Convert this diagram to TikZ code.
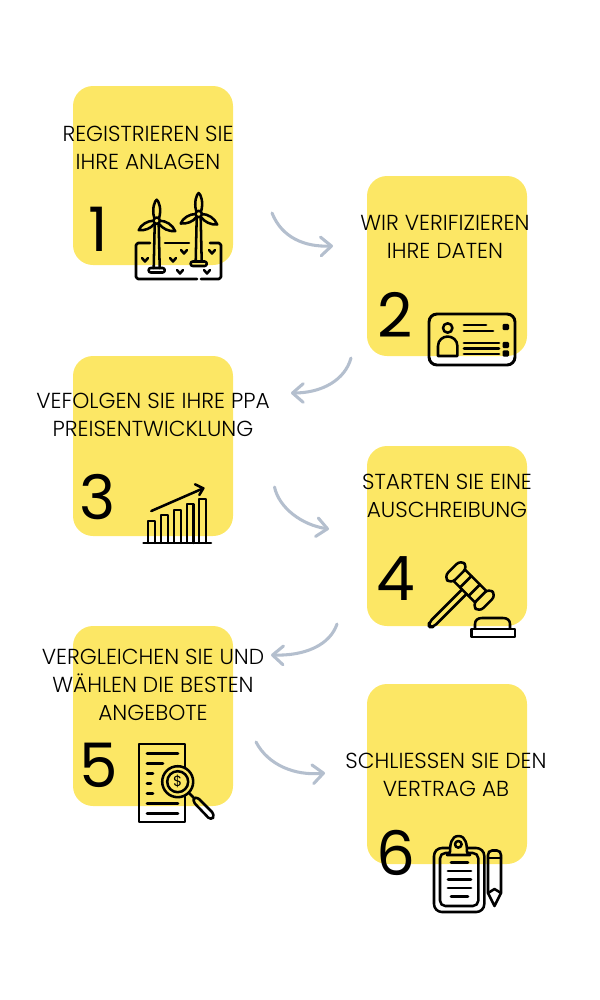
\documentclass[tikz,border=0pt]{standalone}
\usepackage{fontspec}
\setmainfont{Poppins Light}
\newfontfamily\digitfont{Poppins}
\usetikzlibrary{arrows.meta}
\definecolor{boxyellow}{HTML}{FCE765}
\definecolor{arrowgrey}{HTML}{B4BFCE}
\tikzset{
  card/.style={fill=boxyellow,rounded corners=15pt,draw=none},
  caption/.style={font=\fontsize{16.3pt}{21pt}\selectfont,align=center,inner sep=0pt,text=black},
  digit/.style={font=\digitfont\fontsize{46pt}{46pt}\selectfont,inner sep=0pt},
  flow/.style={draw=arrowgrey,line width=2.3pt,line cap=round,-{Straight Barb[length=8pt,width=14pt,line width=2.3pt,round]}},
  ink/.style={draw=black,line width=1.9pt,line cap=round,line join=round},
  inkline/.style={draw=black,line width=2.1pt,line cap=round}
}
\begin{document}
\begin{tikzpicture}[x=0.75pt,y=-0.75pt]
\useasboundingbox (0,0) rectangle (600,1000);
% cards
\path[card] (73,86) rectangle (233,265);
\path[card] (367,176) rectangle (527,356);
\path[card] (73,356) rectangle (233,536);
\path[card] (367,446) rectangle (527,626);
\path[card] (73,626) rectangle (233,806);
\path[card] (367,684) rectangle (527,864);
% captions
\node[caption] (t1) at (148,147.5) {REGISTRIEREN SIE\\IHRE ANLAGEN};
\node[caption] (t2) at (445,236.5) {WIR VERIFIZIEREN\\IHRE DATEN};
\node[caption] (t3) at (153,414.5) {VEFOLGEN SIE IHRE PPA\\PREISENTWICKLUNG};
\node[caption] (t4) at (447,495.5) {STARTEN SIE EINE\\AUSCHREIBUNG};
\node[caption] (t5) at (153,684.5) {VERGLEICHEN SIE UND\\WÄHLEN DIE BESTEN\\ANGEBOTE};
\node[caption] (t6) at (446,774.5) {SCHLIESSEN SIE DEN\\VERTRAG AB};
% digits
\node[digit] (d1) at (98,229) {1};
\node[digit] (d2) at (395.5,315) {2};
\node[digit] (d3) at (98,497) {3};
\node[digit] (d4) at (396,579) {4};
\node[digit] (d5) at (98.5,765) {5};
\node[digit] (d6) at (396,853) {6};
% connectors
\coordinate (a1s) at (272,213); \coordinate (a1e) at (333,246);
\coordinate (a2s) at (351,358); \coordinate (a2e) at (291,393);
\coordinate (a3s) at (274.5,487); \coordinate (a3e) at (329,529);
\coordinate (a4s) at (337,624); \coordinate (a4e) at (271,655);
\coordinate (a5s) at (256,742); \coordinate (a5e) at (325,773);
\draw[flow] (a1s) .. controls (282,238) and (305,247) .. (a1e);
\draw[flow] (a2s) .. controls (345,380) and (322,393) .. (a2e);
\draw[flow] (a3s) .. controls (279,508) and (302,525) .. (a3e);
\draw[flow] (a4s) .. controls (330,645) and (305,656) .. (a4e);
\draw[flow] (a5s) .. controls (268,765) and (295,776) .. (a5e);
% icon 1: wind farm
\draw[ink] (150,243) -- (138,243) -- (136,245) -- (136,277) -- (138,279) -- (197,279);
\draw[ink] (201,279) -- (219,279) -- (221,277) -- (221,245) -- (219,243) -- (210,243);
\draw[ink] (165,243) -- (189,243);
\foreach \hx/\hy/\bt in {156.7/220.7/268,198.7/214/261.5}{
  \draw[ink] (\hx,\hy) circle[radius=3.2];
  \draw[ink] (\hx-2.5,\hy-3) .. controls (\hx-5,\hy-12) and (\hx-2,\hy-20) .. (\hx,\hy-21) .. controls (\hx+2,\hy-20) and (\hx+5,\hy-12) .. (\hx+2.5,\hy-3);
  \draw[ink] (\hx-3.2,\hy) .. controls (\hx-9,\hy+0) and (\hx-16,\hy+4) .. (\hx-18,\hy+9.5) .. controls (\hx-12,\hy+10) and (\hx-6,\hy+8) .. (\hx-2.2,\hy+3);
  \draw[ink] (\hx+3.2,\hy) .. controls (\hx+9,\hy+0) and (\hx+16,\hy+4) .. (\hx+18.5,\hy+10.5) .. controls (\hx+12,\hy+11) and (\hx+6,\hy+8) .. (\hx+2.2,\hy+3);
  \draw[ink] (\hx-2,\hy+3.5) -- (\hx-3,\bt) (\hx+2,\hy+3.5) -- (\hx+3,\bt);
  \draw[ink,rounded corners=1.5pt] (\hx-8,\bt) rectangle (\hx+8,\bt+4.5);
}
\foreach \cx/\cy in {145/260,173/260,184/252,212/252,180/272,207/272}{
  \draw[ink] (\cx-3,\cy-2) -- (\cx,\cy+1.5) -- (\cx+3,\cy-2);
}
% icon 2: id card
\draw[ink,rounded corners=6pt,line width=2.2pt] (429,314) rectangle (515,365);
\draw[ink] (447.7,328) circle[radius=4.7];
\draw[ink] (438,356) -- (438,346) .. controls (438,340) and (443,336.5) .. (447.7,336.5) .. controls (452.4,336.5) and (457.4,340) .. (457.4,346) -- (457.4,356) -- cycle;
\draw[inkline] (464,325) -- (486,325);
\draw[inkline] (464,331) -- (493,331);
\draw[inkline] (464,343) -- (499,343);
\draw[inkline] (464,348.5) -- (499,348.5);
\draw[inkline] (464,354) -- (499,354);
\foreach \sy in {327,345,353.5}{
  \fill[black,rounded corners=1pt] (502.5,\sy-3.2) rectangle (509,\sy+3.2);
}
% icon 3: chart
\draw[ink,line width=1.8pt] (148,543) -- (148,521) -- (155,521) -- (155,543);
\draw[ink,line width=1.8pt] (161,543) -- (161,515) -- (167.7,515) -- (167.7,543);
\draw[ink,line width=1.8pt] (174,543) -- (174,509.7) -- (180.7,509.7) -- (180.7,543);
\draw[ink,line width=1.8pt] (186.7,543) -- (186.7,504) -- (193.3,504) -- (193.3,543);
\draw[ink,line width=1.8pt] (199,543) -- (199,498.7) -- (205.7,498.7) -- (205.7,543);
\draw[ink] (143.5,543) -- (211,543);
\draw[ink] (151.3,511) -- (203.3,488.3);
\draw[ink] (195,484.3) -- (203.3,488.3) -- (199.3,495);
% icon 4: gavel, in a frame turned along the head (u) and the handle (v)
\begin{scope}[shift={(470,586)},x={(0.530pt,-0.530pt)},y={(-0.530pt,-0.530pt)}]
  \draw[ink,rounded corners=3pt] (-3.2,8) -- (-3.2,55) -- (0,58) -- (3.2,55) -- (3.2,8);
  \draw[ink,rounded corners=4.5pt] (-25,-12) -- (-15,-12) -- (-15,12) -- (-25,12) -- cycle;
  \draw[ink,rounded corners=4.5pt] (15,-12) -- (25,-12) -- (25,12) -- (15,12) -- cycle;
  \draw[ink] (-15,-8) -- (15,-8) (-15,8) -- (15,8);
  \draw[ink] (-6,-8) -- (-6,8) (6,-8) -- (6,8);
\end{scope}
% gavel base
\draw[ink] (475,628) -- (475,624) .. controls (475,620) and (478,618) .. (482,618) -- (503,618) .. controls (507,618) and (510,620) .. (510,624) -- (510,628);
\draw[ink] (471.7,629) rectangle (515,637);
% icon 5: document and magnifier
\draw[ink] (139,744) rectangle (185,822);
\draw[inkline] (147,753.5) -- (178,753.5);
\draw[inkline] (147,763.5) -- (163,763.5);
\draw[inkline] (147,773.5) -- (153,773.5);
\draw[inkline] (147,783.5) -- (151,783.5);
\draw[inkline] (147,793.5) -- (153,793.5);
\draw[inkline] (147,803.5) -- (178,803.5);
\draw[inkline] (147,813.5) -- (178,813.5);
\path[fill=boxyellow,draw=black,line width=1.9pt] (177.7,781.7) circle[radius=15.5];
\draw[ink] (177.7,781.7) circle[radius=10.5];
\node[inner sep=0pt,font=\digitfont\fontsize{11pt}{11pt}\selectfont] (dollar) at (177.7,781.7) {\$};
\draw[ink] (189,793) -- (193,797);
\draw[ink,rounded corners=3pt] (192,800.5) -- (196,796) -- (215,815) -- (211,820.5) -- cycle;
% icon 6: clipboard and pencil
\draw[ink,rounded corners=6pt] (434,848) rectangle (484.3,912);
\draw[ink,rounded corners=4pt] (440,853) rectangle (478.3,906);
\draw[ink,fill=boxyellow] (447,855) -- (450,852) .. controls (450,845) and (451,836) .. (458.5,836) .. controls (466,836) and (467,845) .. (467,852) -- (470,855) -- cycle;
\draw[ink] (458.3,844.3) circle[radius=3.3];
\draw[inkline] (451,862.5) -- (468,862.5);
\draw[inkline] (448,871) -- (471,871);
\draw[inkline] (448,879.5) -- (471,879.5);
\draw[inkline] (448,888) -- (471,888);
\draw[inkline] (451,896.5) -- (468,896.5);
\draw[ink,rounded corners=1.5pt] (488,893) -- (488,853) -- (490,850.5) -- (499,850.5) -- (501,853) -- (501,893);
\draw[ink] (488,858) -- (501,858);
\draw[ink] (488,893) -- (494.5,906) -- (501,893);
\draw[ink] (488,893) -- (494.5,889) -- (501,893);
\end{tikzpicture}
\end{document}
